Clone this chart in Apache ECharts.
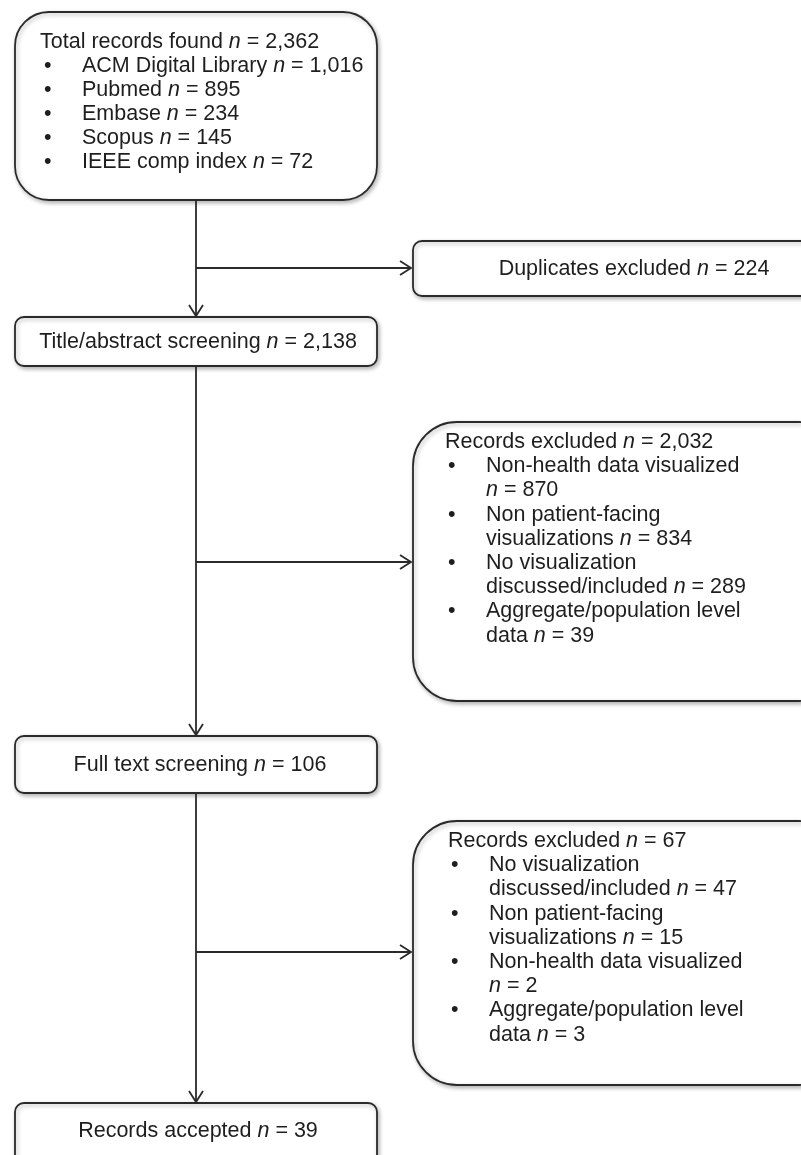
<!DOCTYPE html>
<html>
<head>
<meta charset="utf-8">
<script src="https://cdn.jsdelivr.net/npm/echarts@6/dist/echarts.min.js"></script>
<style>
html,body{margin:0;padding:0;background:#fff;}
#chart{width:801px;height:1155px;}
</style>
</head>
<body>
<div id="chart"></div>
<script>
// ---- data ----
const stageLabels = ['Total records found', 'Title/abstract screening', 'Full text screening', 'Records accepted'];
const stageCounts = [2362, 2138, 106, 39];
const sourceNames = ['ACM Digital Library', 'Pubmed', 'Embase', 'Scopus', 'IEEE comp index'];
const sourceCounts = [1016, 895, 234, 145, 72];
const duplicatesLabel = 'Duplicates excluded';
const duplicatesCount = 224;
const exclusionLabel = 'Records excluded';
const exclusion1Total = 2032;
const exclusion1Reasons = [['Non-health data visualized', ''], ['Non patient-facing', 'visualizations'], ['No visualization', 'discussed/included'], ['Aggregate/population level', 'data']];
const exclusion1Counts = [870, 834, 289, 39];
const exclusion2Total = 67;
const exclusion2Reasons = [['No visualization', 'discussed/included'], ['Non patient-facing', 'visualizations'], ['Non-health data visualized', ''], ['Aggregate/population level', 'data']];
const exclusion2Counts = [47, 15, 2, 3];

// ---- drawing helpers ----
const FONT = "'Liberation Sans', Arial, Helvetica, sans-serif";
const FS = 21.5;
const INK = '#1e1e1e';
const LINE = '#2a2a2a';
const LW = 1.8;
const fmt = v => v.toLocaleString('en-US');
const nTxt = v => '{i|n} = ' + fmt(v);
const rich = { i: { fontStyle: 'italic', fontSize: FS, fontFamily: FONT, fill: INK, color: INK } };

const els = [];
function box(x, y, w, h, r) {
  els.push({ type: 'rect', z: 1, shape: { x, y, width: w, height: h, r },
    style: { fill: '#fff', stroke: LINE, lineWidth: LW, shadowBlur: 4, shadowOffsetX: 1.5, shadowOffsetY: 2, shadowColor: 'rgba(0,0,0,0.28)' } });
}
function txt(x, y, s, align) {
  els.push({ type: 'text', z: 3, style: { x, y, text: s, fill: INK, fontSize: FS, fontFamily: FONT,
    align: align || 'left', verticalAlign: 'middle', textAlign: align || 'left', textVerticalAlign: 'middle', rich } });
}
function line(x1, y1, x2, y2) {
  els.push({ type: 'line', z: 2, shape: { x1, y1, x2, y2 }, style: { stroke: LINE, lineWidth: LW } });
}
function arrowDown(x, y) {
  els.push({ type: 'polyline', z: 2, shape: { points: [[x - 7, y - 11], [x, y], [x + 7, y - 11]] }, style: { stroke: LINE, lineWidth: LW, fill: null } });
}
function arrowRight(x, y) {
  els.push({ type: 'polyline', z: 2, shape: { points: [[x - 11, y - 7], [x, y], [x - 11, y + 7]] }, style: { stroke: LINE, lineWidth: LW, fill: null } });
}
function bulletList(x0, bx, tx, y0, step, title, total, reasons, counts) {
  let y = y0;
  txt(x0, y, title + ' ' + nTxt(total));
  reasons.forEach((r, k) => {
    y += step;
    txt(bx, y, '•');
    txt(tx, y, r[0]);
    y += step;
    txt(tx, y, (r[1] === '' ? '' : r[1] + ' ') + nTxt(counts[k]));
  });
}

// ---- layout ----
const MX = 196;         // main flow x
const LBX = 15, LBW = 362;
const RBX = 413, RBW = 430;

// main vertical lines + arrows
line(MX, 200, MX, 316); arrowDown(MX, 316);
line(MX, 366, MX, 735); arrowDown(MX, 735);
line(MX, 793, MX, 1102); arrowDown(MX, 1102);
// branches
line(MX, 268, 411, 268); arrowRight(411, 268);
line(MX, 562, 411, 562); arrowRight(411, 562);
line(MX, 952, 411, 952); arrowRight(411, 952);

// Box 1: total records
box(LBX, 12, LBW, 188, 34);
txt(40, 42, stageLabels[0] + ' ' + nTxt(stageCounts[0]));
sourceNames.forEach((s, k) => {
  const y = 42 + (k + 1) * 24;
  txt(44, y, '•');
  txt(82, y, s + ' ' + nTxt(sourceCounts[k]));
});

// Duplicates box
box(RBX, 241, RBW, 55, 9);
txt(634, 269, duplicatesLabel + ' ' + nTxt(duplicatesCount), 'center');

// Box 2
box(LBX, 317, LBW, 49, 9);
txt(198, 342, stageLabels[1] + ' ' + nTxt(stageCounts[1]), 'center');

// Exclusion 1
box(RBX, 422, RBW, 279, 44);
bulletList(445, 448, 486, 442, 24.2, exclusionLabel, exclusion1Total, exclusion1Reasons, exclusion1Counts);

// Box 3
box(LBX, 736, LBW, 57, 9);
txt(200, 765, stageLabels[2] + ' ' + nTxt(stageCounts[2]), 'center');

// Exclusion 2
box(RBX, 821, RBW, 264, 44);
bulletList(448, 451, 489, 841, 24.2, exclusionLabel, exclusion2Total, exclusion2Reasons, exclusion2Counts);

// Box 4
box(LBX, 1103, LBW, 90, 9);
txt(198, 1131, stageLabels[3] + ' ' + nTxt(stageCounts[3]), 'center');

const chart = echarts.init(document.getElementById('chart'), null, { renderer: 'canvas' });
chart.setOption({ backgroundColor: '#fff', animation: false, graphic: { elements: els } });
</script>
</body>
</html>
